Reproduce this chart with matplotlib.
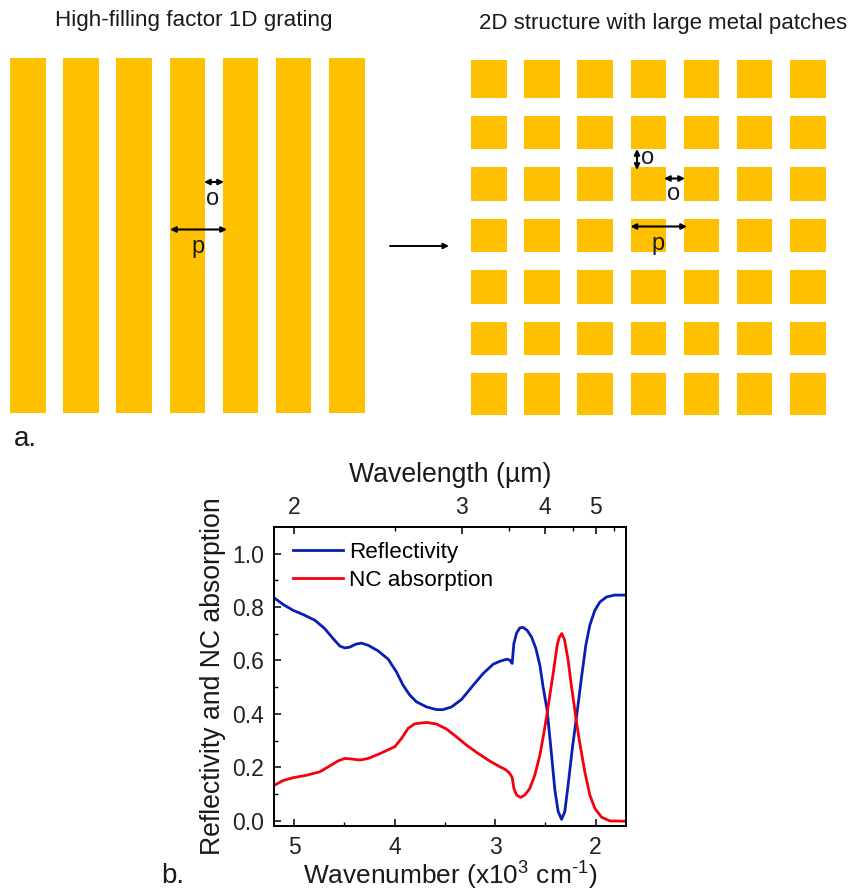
import matplotlib
matplotlib.use("Agg")
import matplotlib.pyplot as plt
from matplotlib.patches import Rectangle
from matplotlib.ticker import FixedLocator, NullFormatter

plt.rcParams["font.family"] = ["Liberation Sans", "DejaVu Sans"]
plt.rcParams["mathtext.fontset"] = "custom"
plt.rcParams["mathtext.rm"] = "Liberation Sans"
plt.rcParams["mathtext.default"] = "regular"

# wavenumber in 10^3 cm-1
refl_x = [5.2, 5.11, 5.01, 4.91, 4.794, 4.694, 4.612, 4.545, 4.495, 4.446, 4.386, 4.329, 4.263, 4.164, 4.064,
          3.981, 3.915, 3.848, 3.782, 3.682, 3.583, 3.517, 3.433, 3.334, 3.218, 3.119, 3.019, 2.953, 2.88,
          2.853, 2.83, 2.813, 2.786, 2.754, 2.721, 2.681, 2.637, 2.594, 2.554, 2.522, 2.482, 2.472, 2.438,
          2.405, 2.372, 2.338, 2.306, 2.273, 2.229, 2.189, 2.139, 2.097, 2.057, 2.007, 1.957, 1.891, 1.808, 1.70]
refl_y = [0.835, 0.81, 0.788, 0.772, 0.751, 0.719, 0.682, 0.654, 0.647, 0.65, 0.661, 0.665, 0.657, 0.636, 0.605,
          0.557, 0.507, 0.47, 0.445, 0.426, 0.416, 0.416, 0.426, 0.454, 0.507, 0.551, 0.586, 0.597, 0.605,
          0.601, 0.589, 0.663, 0.703, 0.722, 0.724, 0.713, 0.688, 0.645, 0.582, 0.501, 0.414, 0.377, 0.246,
          0.115, 0.034, 0.005, 0.034, 0.134, 0.277, 0.39, 0.539, 0.657, 0.732, 0.788, 0.819, 0.838, 0.845, 0.845]
abs_x = [5.2, 5.11, 5.01, 4.877, 4.744, 4.645, 4.562, 4.495, 4.429, 4.346, 4.263, 4.147, 3.998, 3.931, 3.865,
         3.799, 3.682, 3.583, 3.483, 3.384, 3.284, 3.185, 3.052, 2.953, 2.903, 2.86, 2.83, 2.813, 2.786, 2.746,
         2.704, 2.654, 2.604, 2.554, 2.515, 2.482, 2.455, 2.422, 2.382, 2.362, 2.336, 2.309, 2.273, 2.239,
         2.212, 2.196, 2.156, 2.107, 2.057, 2.007, 1.94, 1.858, 1.70]
abs_y = [0.132, 0.15, 0.161, 0.17, 0.183, 0.205, 0.224, 0.233, 0.231, 0.227, 0.233, 0.251, 0.277, 0.308, 0.346,
         0.363, 0.368, 0.362, 0.343, 0.314, 0.283, 0.256, 0.223, 0.202, 0.193, 0.18, 0.162, 0.121, 0.096, 0.087,
         0.096, 0.121, 0.171, 0.246, 0.327, 0.402, 0.47, 0.551, 0.657, 0.686, 0.701, 0.678, 0.601, 0.501,
         0.43, 0.383, 0.289, 0.183, 0.096, 0.046, 0.013, -0.001, -0.002]

wavelength_ticks = [2, 3, 4, 5]
wavelength_minor = [2.5, 3.5, 4.5, 5.5]

# schematic geometry, in image pixels
grating_left = [10, 63, 116, 169.5, 223, 275.5, 328.5]
grating_right = [45.5, 99, 152, 205, 258, 311, 365]
grating_top, grating_bottom = 57.5, 413
patch_left = [471, 524, 577, 630.5, 683.5, 737, 789.5]
patch_right = [506.5, 560, 613, 666, 719, 772, 826]
patch_top = [60, 115.7, 167.3, 218.5, 270, 321.7, 373.3]
patch_bottom = [98, 149.3, 200.7, 252.3, 303.7, 355, 415]
gold = "#FFC000"

fig = plt.figure(figsize=(8.48, 8.91), dpi=100)
W, H = 848, 891

# top part drawn on a full-figure axes in pixel units
bg = fig.add_axes([0, 0, 1, 1])
bg.set_xlim(0, W)
bg.set_ylim(H, 0)
bg.axis("off")

for l, r in zip(grating_left, grating_right):
    bg.add_patch(Rectangle((l, grating_top), r - l, grating_bottom - grating_top, color=gold, lw=0))
for t, b in zip(patch_top, patch_bottom):
    for l, r in zip(patch_left, patch_right):
        bg.add_patch(Rectangle((l, t), r - l, b - t, color=gold, lw=0))


def arrow(x0, y0, x1, y1, lw=1.5):
    bg.annotate("", xy=(x1, y1), xytext=(x0, y0),
                arrowprops=dict(arrowstyle="<|-|>", color="black", lw=lw, mutation_scale=8,
                                shrinkA=0, shrinkB=0))


arrow(204, 182, 224, 182)
arrow(170, 229.5, 227, 229.5)
arrow(637, 149, 637, 170)
arrow(664, 178.5, 685, 178.5)
arrow(630.5, 226.5, 687, 226.5)
bg.annotate("", xy=(449, 246), xytext=(390, 246),
            arrowprops=dict(arrowstyle="-|>", color="black", lw=1.4, mutation_scale=8, shrinkA=0, shrinkB=0))

txt = "#1a1a1a"
bg.text(194, 20.5, "High-filling factor 1D grating", fontsize=16.1, ha="center", va="center", color=txt)
bg.text(663, 24, "2D structure with large metal patches", fontsize=16.0, ha="center", va="center", color=txt)
bg.text(213, 199, "o", fontsize=17, ha="center", va="center", color=txt)
bg.text(198, 247, "p", fontsize=17, ha="center", va="center", color=txt)
bg.text(648, 158, "o", fontsize=17, ha="center", va="center", color=txt)
bg.text(674, 194, "o", fontsize=17, ha="center", va="center", color=txt)
bg.text(658, 244, "p", fontsize=17, ha="center", va="center", color=txt)
bg.text(14, 439, "a.", fontsize=20, ha="left", va="center", color=txt)
bg.text(161, 876, "b.", fontsize=20, ha="left", va="center", color=txt)

# spectrum panel
ax = fig.add_axes([274 / W, 1 - 826 / H, (625.7 - 274) / W, (826 - 527) / H])
ax.plot(refl_x, refl_y, color="#0A1EB4", lw=2.0, label="Reflectivity")
ax.plot(abs_x, abs_y, color="#F5000F", lw=2.0, label="NC absorption")
ax.set_xlim(5.2, 1.7)
ax.set_ylim(-0.02, 1.1)
ax.set_xticks([5, 4, 3, 2])
ax.set_xticks([4.5, 3.5, 2.5], minor=True)
ax.set_yticks([0, 0.2, 0.4, 0.6, 0.8, 1.0])
ax.set_yticks([0.1, 0.3, 0.5, 0.7, 0.9], minor=True)
ax.tick_params(axis="both", which="major", direction="in", length=5, width=1.1, labelsize=16.5, labelcolor="#222222")
ax.tick_params(axis="x", which="major", pad=7.5)
ax.tick_params(axis="y", which="major", pad=7)
ax.tick_params(axis="both", which="minor", direction="in", length=3, width=1.0)
for s in ax.spines.values():
    s.set_linewidth(1.3)
ax.set_xlabel("Wavenumber (x10$^{3}$ cm$^{\u20101}$)", fontsize=18.9, labelpad=0, color=txt)
ax.set_ylabel("Reflectivity and NC absorption", fontsize=19.2, labelpad=4.5, color=txt)
ax.legend(loc="upper left", frameon=False, fontsize=16.2, bbox_to_anchor=(0.017, 0.995),
          handlelength=2.2, handletextpad=0.27, labelspacing=0.3, borderaxespad=0.2)

top = ax.twiny()
top.set_xlim(ax.get_xlim())
top.xaxis.set_major_locator(FixedLocator([10 / w for w in wavelength_ticks]))
top.xaxis.set_minor_locator(FixedLocator([10 / w for w in wavelength_minor]))
top.set_xticklabels([str(w) for w in wavelength_ticks])
top.xaxis.set_minor_formatter(NullFormatter())
top.tick_params(axis="x", which="major", direction="in", length=5, width=1.1, labelsize=16.5, pad=5.5, labelcolor="#222222")
top.tick_params(axis="x", which="minor", direction="in", length=3, width=1.0)
top.set_xlabel("Wavelength (µm)", fontsize=19.2, labelpad=10.5, color=txt)
for s in top.spines.values():
    s.set_linewidth(1.3)

fig.savefig("out.png", dpi=100)
